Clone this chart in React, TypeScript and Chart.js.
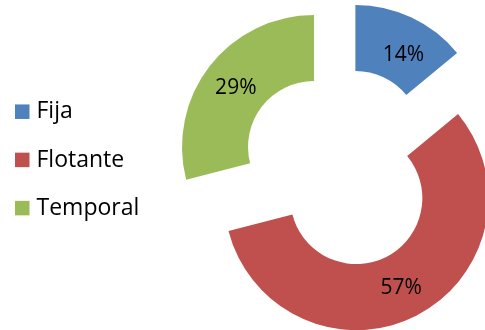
import React, { useEffect, useRef } from "react";
import { Chart, registerables } from "chart.js";

Chart.register(...registerables);

const categories = ["Fija", "Flotante", "Temporal"];
const values = [14, 57, 29];
const colors = ["#4F81BD", "#C0504D", "#9BBB59"];

const EXPLODE = 34;
const FONT = "'Open Sans', 'DejaVu Sans', sans-serif";
// small per-label nudges (px) to mimic the original label placement
const LABEL_NUDGE = [
  [6, 6],
  [0, 0],
  [0, 0],
];

const explodePlugin = {
  id: "explodeArcs",
  beforeDatasetDraw(chart: any, args: any) {
    const ctx = chart.ctx;
    args.meta.data.forEach((arc: any) => {
      const mid = (arc.startAngle + arc.endAngle) / 2;
      ctx.save();
      ctx.translate(Math.cos(mid) * EXPLODE, Math.sin(mid) * EXPLODE);
      arc.draw(ctx, chart.chartArea);
      ctx.restore();
    });
    return false;
  },
  afterDraw(chart: any) {
    const ctx = chart.ctx;
    const meta = chart.getDatasetMeta(0);
    const data = chart.data.datasets[0].data as number[];
    const total = data.reduce((a, b) => a + b, 0);
    ctx.save();
    // slice labels
    ctx.font = `21px ${FONT}`;
    ctx.fillStyle = "#000";
    ctx.textAlign = "center";
    ctx.textBaseline = "alphabetic";
    meta.data.forEach((arc: any, i: number) => {
      const mid = (arc.startAngle + arc.endAngle) / 2;
      const r = EXPLODE + (arc.innerRadius + arc.outerRadius) / 2;
      const x = arc.x + Math.cos(mid) * r + LABEL_NUDGE[i][0];
      const y = arc.y + Math.sin(mid) * r + LABEL_NUDGE[i][1];
      ctx.fillText(Math.round((data[i] / total) * 100) + "%", x, y + 7.5);
    });
    // legend
    ctx.font = `23px ${FONT}`;
    ctx.textAlign = "left";
    const bg = chart.data.datasets[0].backgroundColor as string[];
    chart.data.labels.forEach((lab: string, i: number) => {
      const cy = 111.7 + i * 48.2;
      ctx.fillStyle = bg[i];
      ctx.fillRect(15, cy - 7.25, 14.5, 14.5);
      ctx.fillStyle = "#000";
      ctx.fillText(lab, 36.5, cy + 6.6);
    });
    ctx.restore();
  },
};

export default function App() {
  const ref = useRef<HTMLCanvasElement>(null);
  useEffect(() => {
    if (!ref.current) return;
    const chart = new Chart(ref.current, {
      type: "doughnut",
      data: {
        labels: categories,
        datasets: [
          {
            data: values,
            backgroundColor: colors,
            borderWidth: 0,
          },
        ],
      },
      options: {
        responsive: false,
        animation: false,
        radius: 132,
        cutout: "50%",
        layout: { padding: { left: 196.8, top: 5.6, right: 0, bottom: 0 } },
        plugins: {
          legend: { display: false },
          tooltip: { enabled: false },
        },
      } as any,
      plugins: [explodePlugin],
    });
    return () => chart.destroy();
  }, []);
  return (
    <div style={{ position: "fixed", left: 0, top: 0, width: 485, height: 330, background: "#fff" }}>
      <canvas ref={ref} width={485} height={330} style={{ display: "block" }} />
    </div>
  );
}
